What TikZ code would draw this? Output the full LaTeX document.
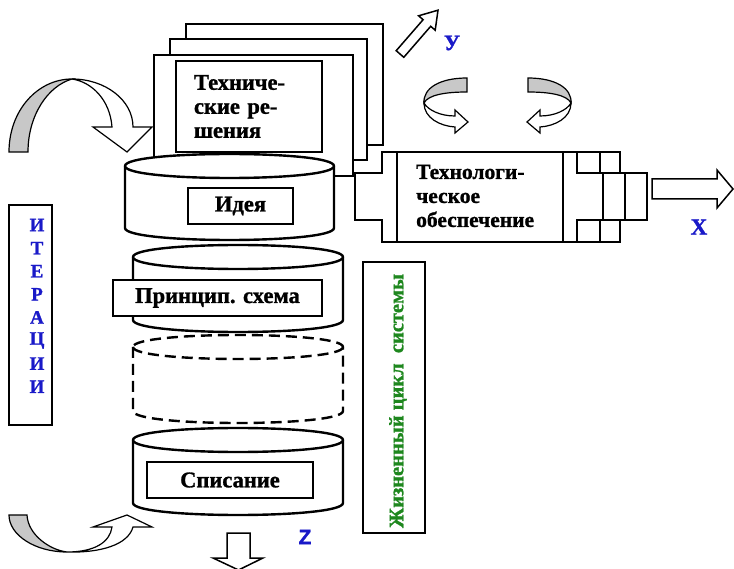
\documentclass[tikz,border=0pt]{standalone}
\usepackage{fontspec}
\setmainfont{Liberation Serif}
\setsansfont{Liberation Sans}
\newfontfamily\heavyserif{Liberation Serif Bold}[FakeBold=1.2]
\newfontfamily\heavysans{Liberation Sans Bold}[FakeBold=1.2]
\definecolor{lblblue}{RGB}{25,25,200}
\definecolor{lblgreen}{RGB}{30,135,30}
\definecolor{ribbon}{RGB}{200,200,200}
\newcommand{\drawcyl}[5][]{%
  \filldraw[cylstyle,#1] (#2,#4) -- (#2,#5) .. controls (#2,#5+16) and (#3,#5+16) .. (#3,#5) -- (#3,#4) .. controls (#3,#4-16) and (#2,#4-16) .. (#2,#4) -- cycle;
  \draw[cylstyle,#1] (#2,#4) .. controls (#2,#4+16) and (#3,#4+16) .. (#3,#4);
}
\begin{document}
\begin{tikzpicture}[x=1pt,y=-1pt,
  cylstyle/.style={draw=black,fill=white,line width=2.4pt},
  sheet/.style={draw=black,fill=white,line width=2.3pt},
  lblbox/.style={draw=black,fill=white,line width=1.3pt,inner sep=0pt},
  txt/.style={font=\heavyserif\fontsize{22.5}{24}\selectfont},
  blockarrow/.style={draw=black,fill=white,line width=1.5pt,line join=miter},
  grayband/.style={draw=black,fill=ribbon,line width=1.2pt},
  whiteband/.style={draw=black,fill=white,line width=1.2pt},
  axis/.style={text=lblblue,font=\heavyserif\fontsize{22}{24}\selectfont,inner sep=0pt}]
\useasboundingbox (0,0) rectangle (734,569);

% stacked sheets
\filldraw[sheet] (186,24) rectangle (383,145);
\filldraw[sheet] (170,39) rectangle (367,160);
\filldraw[sheet] (154,55) rectangle (353,176);
\node[lblbox,minimum width=146pt,minimum height=91pt,text width=110pt,align=left,txt] (techsol) at (249,106.5) {Техниче-\\ские ре-\\шения};

% technological support block
\filldraw[sheet] (382,152) -- (620,152) -- (620,173) -- (647,173) -- (647,220) -- (620,220) -- (620,242) -- (382,242) -- (382,220) -- (355,220) -- (355,173) -- (382,173) -- cycle;
\draw[line width=1.5pt] (397,152) -- (397,242);
\draw[line width=1.5pt] (563,152) -- (563,242);
\draw[line width=2.2pt] (577,152) rectangle (620,173) (600,152) -- (600,173);
\draw[line width=2.2pt] (603,173) rectangle (647,220) (625,173) -- (625,220);
\draw[line width=2.2pt] (577,220) rectangle (620,242) (600,220) -- (600,242);
\node[align=left,anchor=west,inner sep=0pt,font=\heavyserif\fontsize{21.5}{24}\selectfont] (techsup) at (416,196) {Технологи-\\ческое\\обеспечение};

% cylinders
\drawcyl{125}{334}{166}{228}
\drawcyl{133}{343}{257}{320}
\drawcyl[dash pattern=on 11pt off 6pt]{133}{343}{347}{411}
\drawcyl{133}{343}{440}{503}
\node[lblbox,minimum width=105pt,minimum height=36pt,txt] (idea) at (240.5,206) {Идея};
\node[lblbox,minimum width=209pt,minimum height=36pt,txt] (scheme) at (217.5,298) {Принцип. схема};
\node[lblbox,minimum width=166pt,minimum height=36pt,txt] (writeoff) at (230,480) {Списание};

% iterations box
\node[draw=black,line width=2.3pt,minimum width=43pt,minimum height=220pt,inner sep=0pt] (iterbox) at (30.5,315) {};
\foreach \ch [count=\i from 0] in {И,Т,Е,Р,А,Ц,И,И}
  \node[text=lblblue,font=\heavyserif\fontsize{19}{19}\selectfont,inner sep=0pt] (iter\i) at (37,225+23.1*\i) {\ch};

% life cycle box
\node[draw=black,line width=1.6pt,minimum width=62pt,minimum height=271pt,inner sep=0pt] (lifebox) at (394,397.5) {};
\node[rotate=90,text=lblgreen,font=\heavyserif\fontsize{20.5}{20}\selectfont,inner sep=0pt] (lifetext) at (398,401) {Жизненный цикл\ \ системы};

% top-left curved arrow
\filldraw[grayband] (9,152) .. controls (9,110) and (38,79) .. (72,79) .. controls (48,86) and (28,115) .. (28,152) -- cycle;
\filldraw[whiteband] (72,79) .. controls (105,79) and (133,100) .. (133,127) -- (152,127) -- (127,152) -- (93,127) -- (112,127) .. controls (110,100) and (92,82) .. (72,79) -- cycle;

% bottom-left curved arrow
\filldraw[grayband] (9,515) -- (27,515) .. controls (28,535) and (50,550) .. (67,552) .. controls (35,552) and (9,535) .. (9,515) -- cycle;
\filldraw[whiteband] (67,552) .. controls (95,552) and (110,542) .. (112,527) -- (93,527) -- (127,515) -- (152,527) -- (133,527) .. controls (128,545) and (100,553) .. (67,552) -- cycle;

% rotation arrows
\filldraw[grayband] (467,78) .. controls (440,78) and (423,88) .. (424,103) .. controls (428,95) and (445,92) .. (467,92) -- cycle;
\filldraw[whiteband] (424,103) .. controls (424,118) and (440,126) .. (455,127) -- (455,133) -- (468,122) -- (455,110) -- (455,116) .. controls (440,116) and (428,110) .. (424,103) -- cycle;
\filldraw[grayband] (528,78) .. controls (555,78) and (572,88) .. (571,103) .. controls (567,95) and (550,92) .. (528,92) -- cycle;
\filldraw[whiteband] (571,103) .. controls (571,118) and (555,126) .. (540,127) -- (540,133) -- (527,122) -- (540,110) -- (540,116) .. controls (555,116) and (567,110) .. (571,103) -- cycle;

% axis arrows
\filldraw[blockarrow] (396.2,50.7) -- (423.1,19.7) -- (418.6,15.8) -- (438,10.2) -- (435.2,30.2) -- (430.7,26.3) -- (403.8,57.3) -- cycle;
\node[axis] (ylab) at (452,43) {У};
\filldraw[blockarrow] (652,179) -- (717,179) -- (717,170) -- (733,189) -- (717,208) -- (717,199) -- (652,199) -- cycle;
\node[axis,font=\heavyserif\fontsize{23}{24}\selectfont] (xlab) at (699,227) {X};
\filldraw[blockarrow] (227,533) -- (250,533) -- (250,558) -- (263,558) -- (238.5,570) -- (213,558) -- (227,558) -- cycle;
\node[axis,font=\heavysans\fontsize{21}{24}\selectfont] (zlab) at (305,537) {Z};
\end{tikzpicture}
\end{document}
